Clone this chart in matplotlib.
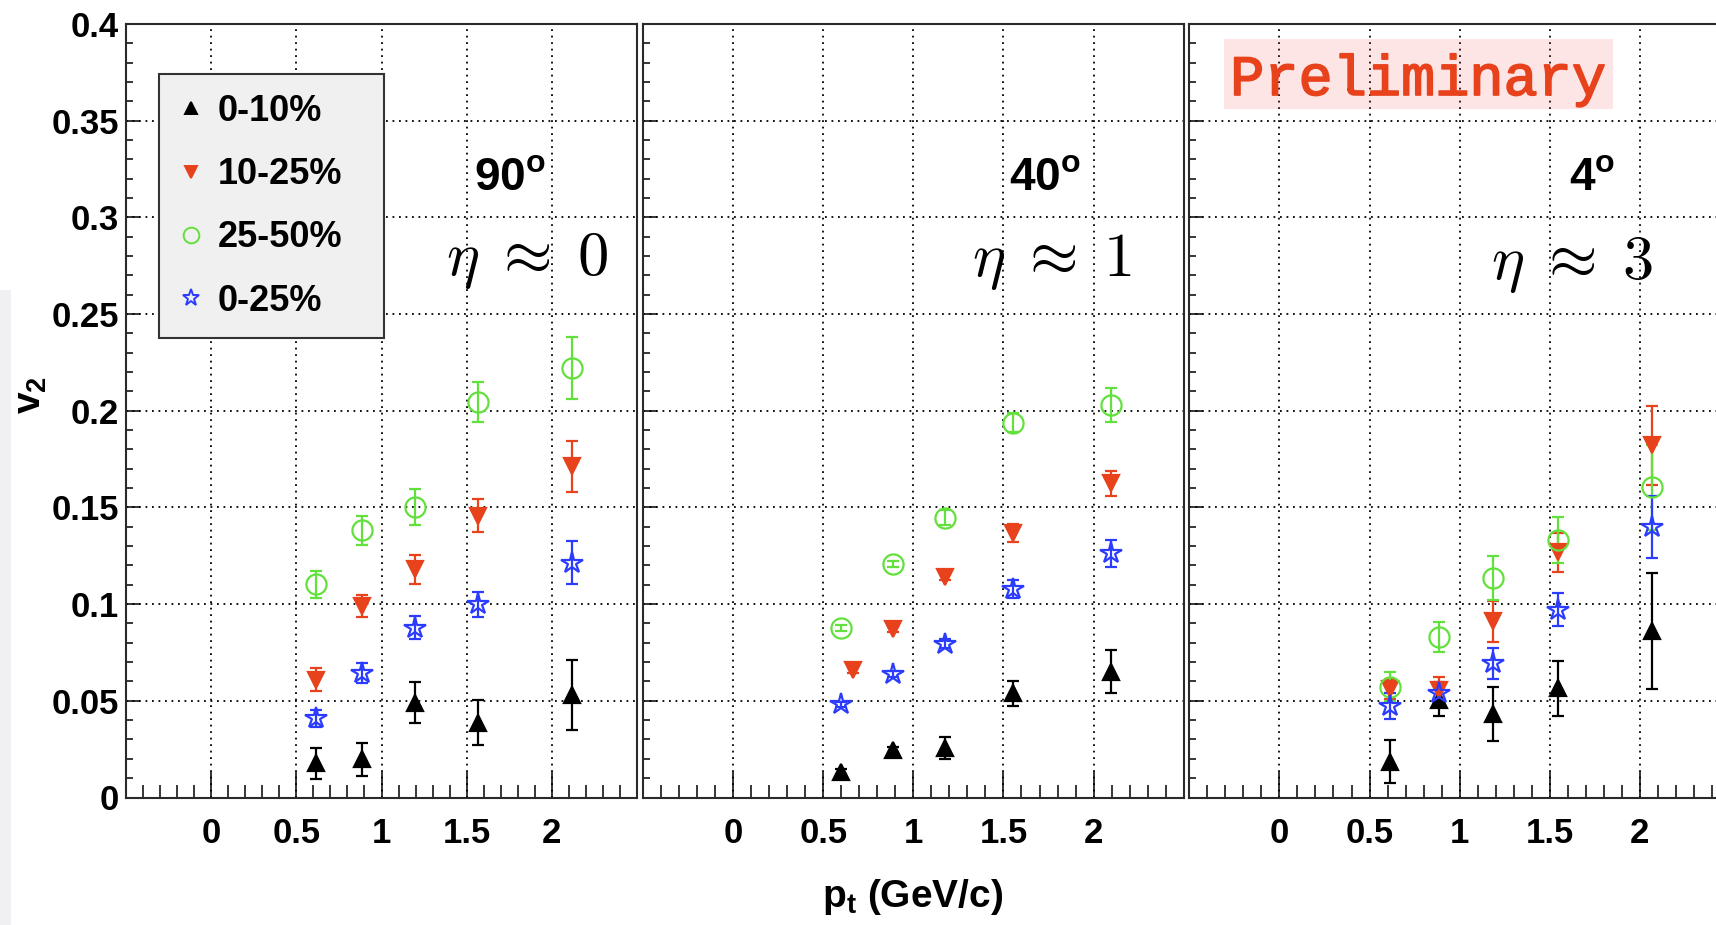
import matplotlib
matplotlib.use("Agg")
import matplotlib.pyplot as plt
import matplotlib.patheffects as pe
from matplotlib.lines import Line2D
from matplotlib.patches import Rectangle
from matplotlib.ticker import MultipleLocator

plt.rcParams['font.family'] = ['Liberation Sans', 'DejaVu Sans']
plt.rcParams['font.weight'] = 'bold'
plt.rcParams['mathtext.fontset'] = 'custom'
plt.rcParams['mathtext.rm'] = 'Liberation Sans:bold'
plt.rcParams['mathtext.it'] = 'Liberation Sans:bold'
plt.rcParams['mathtext.bf'] = 'Liberation Sans:bold'

# centrality classes
centralities = ['0-10%', '10-25%', '25-50%', '0-25%']
colors = ['#000000', '#e8421c', '#62e03c', '#2c3cff']
markers = ['^', 'v', 'o', '*']
open_marker = [False, False, True, True]
marker_size = [11, 11, 14.5, 16]

angles = ['90$^{\\mathrm{o}}$', '40$^{\\mathrm{o}}$', '4$^{\\mathrm{o}}$']
etas = [r'$\eta\;\approx\;0$', r'$\eta\;\approx\;1$', r'$\eta\;\approx\;3$']

xtick_vals = [0, 0.5, 1, 1.5, 2]
xtick_labels = ['0', '0.5', '1', '1.5', '2']
ytick_vals = [0, 0.05, 0.1, 0.15, 0.2, 0.25, 0.3, 0.35, 0.4]
ytick_labels = ['0', '0.05', '0.1', '0.15', '0.2', '0.25', '0.3', '0.35', '0.4']

# mean pt of each bin, per detector angle (one list per centrality)
pt_90 = [[0.617, 0.887, 1.196, 1.568, 2.119]] * 4
pt_40 = [[0.598, 0.888, 1.178, 1.553, 2.098],
         [0.666, 0.888, 1.178, 1.553, 2.098],
         [0.598, 0.888, 1.178, 1.553, 2.098],
         [0.598, 0.888, 1.178, 1.553, 2.098]]
pt_4 = [[0.614, 0.887, 1.185, 1.548, 2.066]] * 4

# v2 at 90 deg
v2_90 = [[0.0176, 0.0197, 0.0491, 0.0387, 0.0531],
         [0.0609, 0.0990, 0.1180, 0.1458, 0.1712],
         [0.1103, 0.1383, 0.1500, 0.2045, 0.2223],
         [0.0410, 0.0644, 0.0878, 0.0999, 0.1215]]
err_90 = [[0.0080, 0.0085, 0.0105, 0.0115, 0.0180],
          [0.0060, 0.0055, 0.0075, 0.0085, 0.0130],
          [0.0070, 0.0075, 0.0093, 0.0103, 0.0160],
          [0.0045, 0.0050, 0.0060, 0.0065, 0.0110]]

# v2 at 40 deg
v2_40 = [[0.0130, 0.0245, 0.0255, 0.0538, 0.0651],
         [0.0657, 0.0869, 0.1139, 0.1368, 0.1626],
         [0.0878, 0.1208, 0.1447, 0.1939, 0.2030],
         [0.0481, 0.0638, 0.0796, 0.1078, 0.1264]]
err_40 = [[0.0015, 0.0015, 0.0057, 0.0065, 0.0110],
          [0.0015, 0.0015, 0.0015, 0.0045, 0.0065],
          [0.0015, 0.0015, 0.0040, 0.0050, 0.0090],
          [0.0015, 0.0015, 0.0025, 0.0045, 0.0070]]

# v2 at 4 deg
v2_4 = [[0.0186, 0.0504, 0.0434, 0.0564, 0.0859],
        [0.0561, 0.0555, 0.0911, 0.1267, 0.1821],
        [0.0573, 0.0830, 0.1136, 0.1331, 0.1605],
        [0.0474, 0.0538, 0.0694, 0.0972, 0.1400]]
err_4 = [[0.0113, 0.0080, 0.0140, 0.0140, 0.0300],
         [0.0050, 0.0070, 0.0105, 0.0100, 0.0205],
         [0.0075, 0.0077, 0.0115, 0.0120, 0.0220],
         [0.0067, 0.0060, 0.0080, 0.0087, 0.0160]]

panels = [(pt_90, v2_90, err_90), (pt_40, v2_40, err_40), (pt_4, v2_4, err_4)]

W, H = 1716, 925
fig = plt.figure(figsize=(W / 100, H / 100), dpi=100)

# pad frames in pixels: left, width
frames = [(126, 511), (643, 540.7), (1189.3, 540.7)]
bottom_px, height_px = 127.5, 773.5

# soft grey strip along the left border
fig.patches.append(Rectangle((0, 0), 11 / W, 635 / H, transform=fig.transFigure,
                             facecolor='#f0f0f3', edgecolor='none', zorder=0))

angle_pos = [(0.751, 0.801), (0.743, 0.801), (0.745, 0.801)]
eta_pos = [(0.786, 0.694), (0.756, 0.692), (0.709, 0.688)]

axes = []
for i, (left, width) in enumerate(frames):
    ax = fig.add_axes([left / W, bottom_px / H, width / W, height_px / H])
    axes.append(ax)
    pts, vals, errs = panels[i]
    handles = []
    for k in range(4):
        c = colors[k]
        ax.errorbar(pts[k], vals[k], yerr=errs[k], fmt=markers[k], color=c,
                    ms=marker_size[k],
                    mfc='none' if open_marker[k] else c, mec=c, mew=1.6,
                    elinewidth=1.6, capsize=4.5, capthick=1.6, zorder=3)
        handles.append(Line2D([], [], ls='none', marker=markers[k], color=c,
                              ms=marker_size[k] * 0.78,
                              mfc='none' if open_marker[k] else c, mec=c, mew=1.4))

    ax.set_xlim(-0.5, 2.5)
    ax.set_ylim(0, 0.4)
    ax.set_xticks(xtick_vals, xtick_labels)
    ax.set_yticks(ytick_vals, ytick_labels if i == 0 else [])
    ax.xaxis.set_minor_locator(MultipleLocator(0.1))
    ax.yaxis.set_minor_locator(MultipleLocator(0.01))
    ax.tick_params(axis='x', which='major', direction='in', length=19, width=1.1,
                   labelsize=25, pad=14, top=False)
    ax.tick_params(axis='x', which='minor', direction='in', length=9.5, width=1.1, top=False)
    ax.tick_params(axis='y', which='major', direction='in', length=10, width=1.1,
                   labelsize=25, pad=5, right=False)
    ax.tick_params(axis='y', which='minor', direction='in', length=5, width=1.1, right=False)
    ax.grid(True, which='major', color='black', lw=1.3, ls=(0, (1, 2.6)))
    ax.set_axisbelow(True)
    for s in ax.spines.values():
        s.set_linewidth(1.5)
        s.set_color('#2a2a2a')

    ax.text(*angle_pos[i], angles[i], transform=ax.transAxes, ha='center',
            va='center', fontsize=33, fontweight='bold')
    ax.text(*eta_pos[i], etas[i], transform=ax.transAxes, ha='center',
            va='center', fontsize=45, math_fontfamily='cm')

    if i == 0:
        leg = ax.legend(handles, centralities, loc='upper left',
                        bbox_to_anchor=(0.064, 0, 0.4405, 0.935), mode='expand',
                        borderaxespad=0, fontsize=26, borderpad=0.55,
                        handlelength=0.7, handletextpad=0.38, labelspacing=0.78,
                        fancybox=False, framealpha=1)
        leg.get_frame().set_facecolor('#f0f0f0')
        leg.get_frame().set_edgecolor('#333333')
        leg.get_frame().set_linewidth(1.5)
        ax.set_ylabel(r'$\mathrm{v}_{2}$', fontsize=28, labelpad=0)
        ax.yaxis.set_label_coords(-0.15, 0.52)

# Preliminary tag on the forward pad
ax3 = axes[2]
ax3.add_patch(Rectangle((0.0642, 0.890), 0.7194, 0.0905, transform=ax3.transAxes,
                        facecolor=(0.93, 0.30, 0.25, 0.14), edgecolor='none', zorder=4))
ax3.text(0.424, 0.9082, 'Preliminary', transform=ax3.transAxes, ha='center',
         va='baseline', fontsize=41, family='Liberation Mono', fontweight='normal',
         color='#e8421c', zorder=5,
         path_effects=[pe.withStroke(linewidth=1.2, foreground='#e8421c')])

fig.text(913 / W, 1 - 897 / H, r'$\mathrm{p}_{\mathrm{t}}$ (GeV/c)', ha='center',
         va='center', fontsize=28, fontweight='bold')

fig.savefig('out.png', dpi=100)
